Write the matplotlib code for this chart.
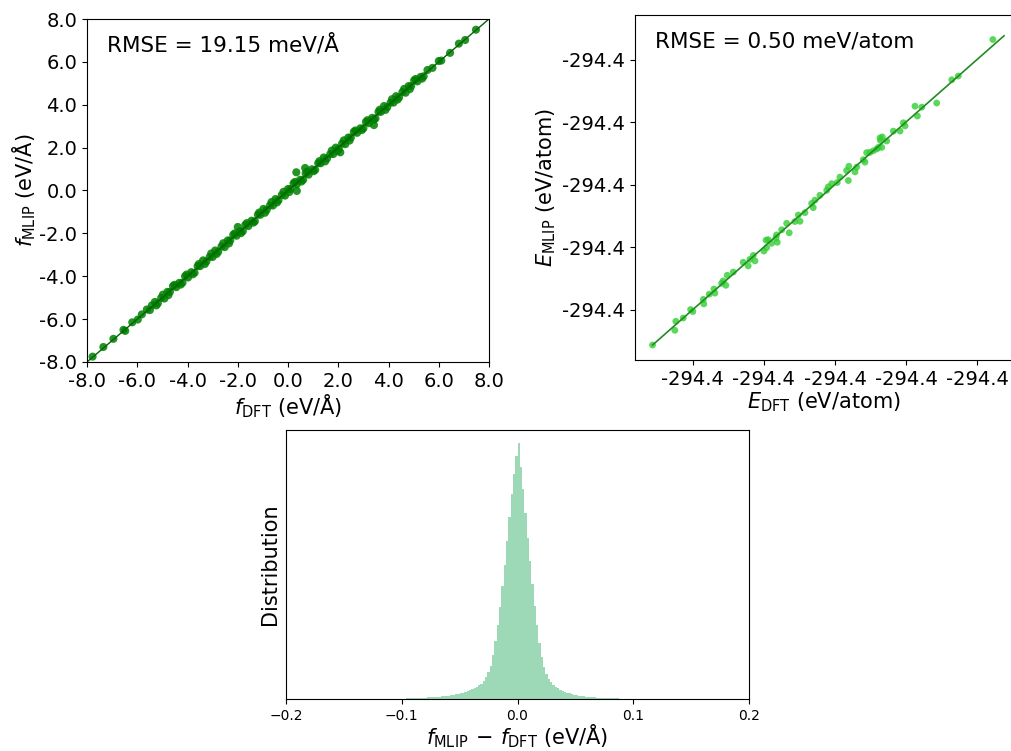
import matplotlib.pyplot as plt
import numpy as np
from matplotlib.ticker import FormatStrFormatter

# force parity data (eV/A): (DFT, MLIP) pairs
force_points = [
    (-7.78, -7.75), (-7.35, -7.30), (-6.95, -6.92), (-6.55, -6.50), (-6.48, -6.55),
    (-6.20, -6.15), (-5.98, -6.02), (-5.82, -5.78), (-5.62, -5.55), (-5.50, -5.58),
    (-5.42, -5.36), (-5.30, -5.20), (-5.18, -5.26), (-5.05, -5.01), (-4.92, -5.04),
    (-4.80, -4.73), (-4.70, -4.73), (-4.58, -4.46), (-4.45, -4.51), (-4.33, -4.31),
    (-4.20, -4.30), (-4.10, -4.00), (-3.98, -4.06), (-3.85, -3.81), (-3.72, -3.84),
    (-3.60, -3.53), (-3.50, -3.53), (-3.38, -3.26), (-3.25, -3.31), (-3.12, -3.10),
    (-3.00, -3.10), (-2.90, -2.80), (-2.78, -2.86), (-2.65, -2.61), (-2.52, -2.64),
    (-2.40, -2.33), (-2.30, -2.33), (-2.18, -2.06), (-2.05, -2.11), (-1.92, -1.90),
    (-1.80, -1.90), (-1.70, -1.60), (-1.58, -1.66), (-1.45, -1.41), (-1.32, -1.44),
    (-1.20, -1.13), (-1.10, -1.13), (-0.98, -0.86), (-0.85, -0.91), (-0.72, -0.70),
    (-0.60, -0.70), (-0.50, -0.40), (-0.38, -0.46), (-0.25, -0.21), (-0.12, -0.24),
    (0.00, 0.07), (0.10, 0.07), (0.22, 0.34), (0.35, 0.29), (0.48, 0.50),
    (0.60, 0.50), (0.70, 0.80), (0.82, 0.74), (0.95, 0.99), (1.08, 0.96),
    (1.20, 1.27), (1.30, 1.27), (1.42, 1.54), (1.55, 1.49), (1.68, 1.70),
    (1.80, 1.70), (1.90, 2.00), (2.02, 1.94), (2.15, 2.19), (2.28, 2.16),
    (2.40, 2.47), (2.50, 2.47), (2.62, 2.74), (2.75, 2.69), (2.88, 2.90),
    (3.00, 2.90), (3.10, 3.20), (3.22, 3.14), (3.35, 3.39), (3.48, 3.36),
    (3.60, 3.67), (3.70, 3.67), (3.82, 3.94), (3.95, 3.89), (4.08, 4.10),
    (4.20, 4.10), (4.30, 4.40), (4.42, 4.34), (4.55, 4.59), (4.68, 4.56),
    (4.80, 4.87), (4.90, 4.87), (5.02, 5.14), (5.15, 5.09), (5.28, 5.30),
    (5.40, 5.33), (5.55, 5.62), (5.75, 5.72), (6.00, 6.04), (6.10, 6.06),
    (6.45, 6.42), (6.80, 6.85), (7.05, 7.02), (7.48, 7.50),
    # second, offset layer of the dense band
    (-5.24, -5.36), (-4.98, -4.86), (-4.76, -4.88), (-4.52, -4.40), (-4.27, -4.39),
    (-4.04, -3.92), (-3.79, -3.91), (-3.55, -3.43), (-3.31, -3.43), (-3.06, -2.94),
    (-2.84, -2.96), (-2.58, -2.46), (-2.35, -2.47), (-2.12, -2.00), (-1.87, -1.99),
    (-1.64, -1.52), (-1.38, -1.50), (-1.15, -1.03), (-0.92, -1.04), (-0.66, -0.54),
    (-0.44, -0.56), (-0.18, -0.06), (0.05, -0.07), (0.28, 0.40), (0.54, 0.42),
    (0.76, 0.88), (1.02, 0.90), (1.25, 1.37), (1.48, 1.36), (1.74, 1.86),
    (1.96, 1.84), (2.22, 2.34), (2.45, 2.33), (2.68, 2.80), (2.94, 2.82),
    (3.16, 3.28), (3.42, 3.30), (3.65, 3.77), (3.88, 3.76), (4.14, 4.26),
    (4.36, 4.24), (4.62, 4.74), (4.85, 4.73), (5.08, 5.20), (5.34, 5.22),
    # a few visible outliers
    (0.33, 0.85), (0.68, 1.05), (0.35, -0.02), (3.42, 3.05), (2.08, 1.78), (-2.00, -1.70),
]
f_dft = np.array([p[0] for p in force_points])
f_mlip = np.array([p[1] for p in force_points])

# energy parity data, meV/atom relative to -294.40 eV/atom
e_dft_mev = [-12.84, -11.27, -11.20, -10.68, -10.16, -10.00, -9.27, -9.23, -8.85, -8.52,
             -8.45, -7.98, -7.87, -7.68, -7.58, -7.16, -6.46, -6.11, -5.99, -5.63,
             -5.75, -5.00, -4.81, -4.70, -4.15, -4.06, -4.85, -4.46, -4.11, -3.75,
             -3.40, -3.22, -2.82, -2.58, -2.46, -2.11, -1.64, -1.53, -1.41, -1.06,
             -0.58, -0.47, -0.23, 0.16, 0.35, 0.94, 0.82, 0.98, 1.41, 1.53,
             1.99, 2.11, 2.46, 2.94, 3.17, 3.29, 3.64, 2.23, 2.70, 3.05,
             3.20, 3.33, 4.11, 4.58, 4.81, 4.93, 5.63, 5.80, 6.11, 7.16,
             8.22, 8.68, 11.11]
e_mlip_mev = [-12.84, -11.66, -10.94, -10.68, -10.00, -10.16, -9.19, -9.55, -8.77, -8.36,
              -8.69, -7.90, -7.71, -8.06, -7.26, -7.00, -6.22, -6.51, -5.99, -6.11,
              -5.67, -5.32, -5.05, -4.41, -4.28, -4.62, -4.45, -4.70, -4.03, -3.62,
              -3.10, -3.86, -2.96, -2.44, -2.94, -2.25, -1.51, -1.85, -1.25, -0.86,
              -0.46, -0.19, 0.07, 0.16, 0.59, 0.32, 1.12, 1.46, 1.01, 1.39,
              1.99, 1.79, 2.57, 2.84, 3.73, 2.97, 3.48, 2.55, 2.70, 2.97,
              3.52, 3.81, 4.27, 4.28, 4.94, 4.69, 6.27, 5.48, 6.19, 6.52,
              8.38, 8.68, 11.60]
e_ref = -294.40
e_dft = e_ref + np.array(e_dft_mev) / 1000.0
e_mlip = e_ref + np.array(e_mlip_mev) / 1000.0

# force error histogram, bins of 0.002 eV/A from -0.1 to 0.1
err_counts_left = [2, 2, 3, 3, 3, 3, 4, 4, 4, 5,
                   5, 6, 6, 7, 8, 8, 9, 10, 11, 12,
                   13, 15, 16, 18, 20, 22, 25, 28, 31, 34,
                   38, 42, 47, 53, 60, 70, 85, 105, 130, 170,
                   225, 290, 360, 440, 525, 615, 710, 800, 880, 950]
err_counts_right = [1000, 905, 820, 725, 630, 540, 450, 365, 290, 220,
                    165, 125, 98, 80, 66, 56, 48, 42, 37, 32,
                    28, 25, 22, 19, 17, 15, 13, 12, 10, 9,
                    8, 7, 6, 6, 5, 5, 4, 4, 4, 3,
                    3, 3, 3, 3, 2, 2, 2, 2, 2, 2]
err_counts = err_counts_left + err_counts_right
err_edges = np.linspace(-0.1, 0.1, len(err_counts) + 1)
err_centers = 0.5 * (err_edges[:-1] + err_edges[1:])

fig = plt.figure(figsize=(10.11, 7.51), dpi=100)

# --- force parity ---
ax1 = fig.add_axes([0.0861, 0.518, 0.3976, 0.4567])
ax1.scatter(f_dft, f_mlip, s=34, color='green', alpha=0.85, edgecolors='none')
lo, hi = -8.0, 8.0
ax1.plot([lo, hi], [lo, hi], color='darkgreen', lw=1.0)
ax1.set_xlim(-8, 8)
ax1.set_ylim(-8, 8)
ax1.set_xticks(np.arange(-8, 9, 2))
ax1.set_yticks(np.arange(-8, 9, 2))
ax1.xaxis.set_major_formatter(FormatStrFormatter('%.1f'))
ax1.yaxis.set_major_formatter(FormatStrFormatter('%.1f'))
ax1.tick_params(labelsize=14)
ax1.set_xlabel(r'$f_{\mathrm{DFT}}$ (eV/Å)', fontsize=15, labelpad=1)
ax1.set_ylabel(r'$f_{\mathrm{MLIP}}$ (eV/Å)', fontsize=15, labelpad=1)
ax1.text(0.05, 0.924, 'RMSE = 19.15 meV/Å', transform=ax1.transAxes,
         fontsize=15.5, va='center', ha='left')

# --- energy parity ---
ax2 = fig.add_axes([0.628, 0.5206, 0.373, 0.4594])
ax2.scatter(e_dft, e_mlip, s=24, color='limegreen', alpha=0.8, edgecolors='none')
e_lo = min(e_dft.min(), e_mlip.min())
e_hi = max(e_dft.max(), e_mlip.max())
ax2.plot([e_lo, e_hi + 0.0003], [e_lo, e_hi + 0.0003], color='forestgreen', lw=1.2)
ax2.set_xlim(e_ref - 0.01408, e_ref + 0.01246)
ax2.set_ylim(e_ref - 0.01404, e_ref + 0.01356)
ax2.set_xticks(e_ref + np.array([-0.010, -0.005, 0.0, 0.005, 0.010]))
ax2.set_yticks(e_ref + np.array([-0.010, -0.005, 0.0, 0.005, 0.010]))
ax2.xaxis.set_major_formatter(FormatStrFormatter('%.1f'))
ax2.yaxis.set_major_formatter(FormatStrFormatter('%.1f'))
ax2.tick_params(labelsize=14)
ax2.set_xlabel(r'$E_{\mathrm{DFT}}$ (eV/atom)', fontsize=15, labelpad=1)
ax2.set_ylabel(r'$E_{\mathrm{MLIP}}$ (eV/atom)', fontsize=15, labelpad=3)
ax2.text(0.053, 0.922, 'RMSE = 0.50 meV/atom', transform=ax2.transAxes,
         fontsize=15.5, va='center', ha='left')

# --- error histogram ---
ax3 = fig.add_axes([0.2829, 0.0692, 0.458, 0.3582])
ax3.hist(err_centers, bins=err_edges, weights=err_counts, histtype='stepfilled',
         color='mediumseagreen', alpha=0.5, linewidth=0)
ax3.set_xlim(-0.2, 0.2)
ax3.set_xticks([-0.2, -0.1, 0.0, 0.1, 0.2])
ax3.set_yticks([])
ax3.tick_params(labelsize=10)
ax3.set_xlabel(r'$f_{\mathrm{MLIP}}\,-\,f_{\mathrm{DFT}}$ (eV/Å)', fontsize=15, labelpad=0)
ax3.set_ylabel('Distribution', fontsize=15)

fig.savefig('out.png', dpi=100)
